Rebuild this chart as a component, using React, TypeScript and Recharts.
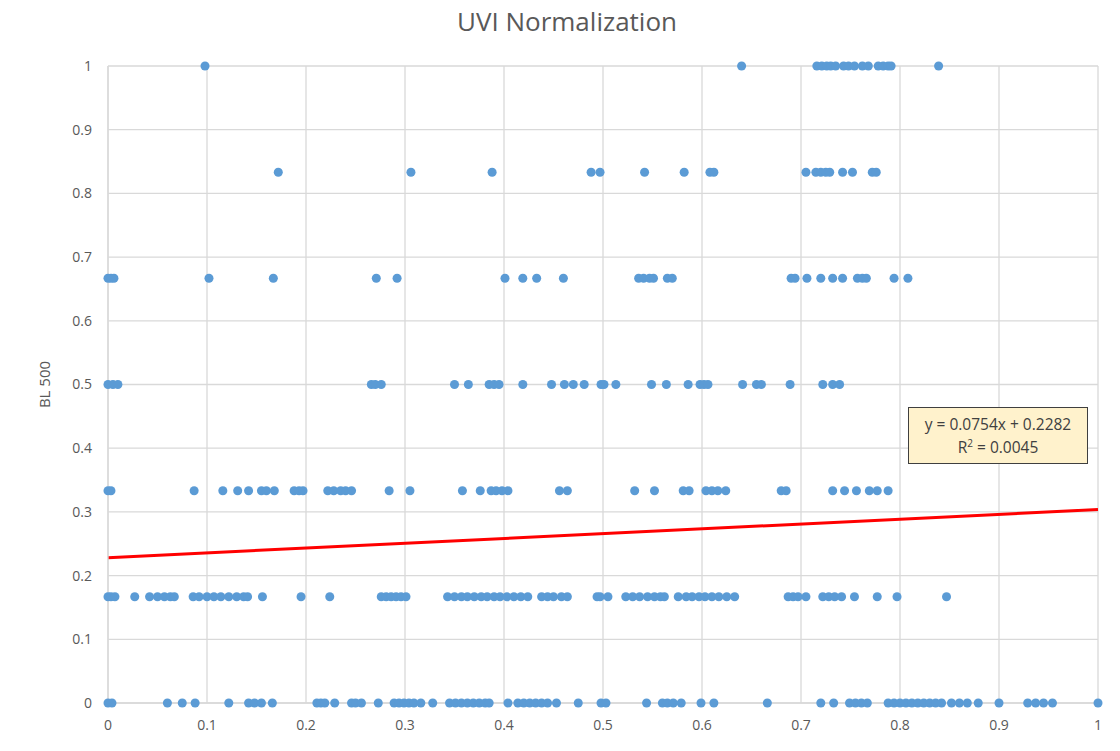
import React from 'react';
import {
  ScatterChart, Scatter, XAxis, YAxis, ZAxis, CartesianGrid, ReferenceLine,
} from 'recharts';

// Excel-style scatter: BL 500 vs UVI normalization, with linear trendline

const LEVELS = [0, 0.1667, 0.3333, 0.5, 0.6667, 0.8333, 1];

const X_AT_0 = [0, 0.004, 0.06, 0.075, 0.088, 0.122, 0.142, 0.148, 0.155, 0.166, 0.211, 0.215, 0.219, 0.229, 0.246, 0.25, 0.256, 0.273, 0.289, 0.294, 0.299, 0.304, 0.309, 0.316, 0.328, 0.345, 0.351, 0.357, 0.363, 0.369, 0.375, 0.381, 0.385, 0.404, 0.414, 0.42, 0.426, 0.432, 0.438, 0.444, 0.453, 0.475, 0.498, 0.503, 0.544, 0.56, 0.565, 0.571, 0.579, 0.599, 0.612, 0.666, 0.72, 0.733, 0.749, 0.755, 0.761, 0.767, 0.788, 0.794, 0.8, 0.806, 0.812, 0.818, 0.824, 0.83, 0.836, 0.842, 0.852, 0.86, 0.868, 0.879, 0.9, 0.929, 0.937, 0.945, 0.954, 1.0];
const X_AT_SIXTH = [0, 0.003, 0.007, 0.027, 0.042, 0.05, 0.057, 0.063, 0.067, 0.086, 0.092, 0.1, 0.107, 0.114, 0.122, 0.13, 0.137, 0.141, 0.156, 0.195, 0.224, 0.276, 0.281, 0.286, 0.291, 0.296, 0.301, 0.343, 0.35, 0.357, 0.363, 0.37, 0.377, 0.383, 0.39, 0.396, 0.403, 0.41, 0.417, 0.424, 0.438, 0.444, 0.45, 0.458, 0.464, 0.494, 0.497, 0.505, 0.523, 0.53, 0.537, 0.545, 0.552, 0.558, 0.562, 0.576, 0.584, 0.59, 0.597, 0.603, 0.61, 0.617, 0.625, 0.633, 0.687, 0.692, 0.697, 0.705, 0.722, 0.728, 0.734, 0.741, 0.754, 0.777, 0.797, 0.847];
const X_AT_THIRD = [0, 0.003, 0.087, 0.116, 0.131, 0.142, 0.155, 0.16, 0.168, 0.188, 0.193, 0.197, 0.222, 0.228, 0.235, 0.24, 0.246, 0.284, 0.305, 0.358, 0.376, 0.387, 0.392, 0.398, 0.404, 0.456, 0.464, 0.532, 0.552, 0.581, 0.587, 0.604, 0.61, 0.616, 0.624, 0.68, 0.685, 0.732, 0.744, 0.756, 0.769, 0.777, 0.788];
const X_AT_HALF = [0, 0.005, 0.01, 0.266, 0.27, 0.276, 0.35, 0.364, 0.385, 0.39, 0.395, 0.419, 0.448, 0.461, 0.47, 0.481, 0.498, 0.501, 0.513, 0.549, 0.564, 0.586, 0.598, 0.602, 0.606, 0.641, 0.655, 0.66, 0.689, 0.722, 0.732, 0.739];
const X_AT_TWO_THIRDS = [0, 0.003, 0.006, 0.102, 0.167, 0.271, 0.292, 0.401, 0.419, 0.433, 0.46, 0.536, 0.541, 0.547, 0.551, 0.565, 0.57, 0.69, 0.694, 0.706, 0.72, 0.732, 0.742, 0.757, 0.762, 0.766, 0.794, 0.808];
const X_AT_FIVE_SIXTHS = [0.172, 0.306, 0.388, 0.488, 0.497, 0.542, 0.582, 0.608, 0.612, 0.705, 0.715, 0.72, 0.725, 0.729, 0.742, 0.752, 0.772, 0.776];
const X_AT_1 = [0.098, 0.64, 0.716, 0.721, 0.726, 0.73, 0.735, 0.743, 0.748, 0.754, 0.762, 0.768, 0.778, 0.783, 0.788, 0.791, 0.839];

const X_BY_LEVEL = [X_AT_0, X_AT_SIXTH, X_AT_THIRD, X_AT_HALF, X_AT_TWO_THIRDS, X_AT_FIVE_SIXTHS, X_AT_1];

// trendline y = 0.0754x + 0.2282, end points
const TREND_START = { x: 0, y: 0.2282 };
const TREND_END = { x: 1, y: 0.3036 };

const TICKS = [0, 0.1, 0.2, 0.3, 0.4, 0.5, 0.6, 0.7, 0.8, 0.9, 1];

const points = X_BY_LEVEL.flatMap((xs, i) => xs.map((x) => ({ x, y: LEVELS[i] })));

const FONT = '"Open Sans", "Liberation Sans", sans-serif';
const GRAY = '#595959';
const GRID = '#d9d9d9';

export default function App() {
  return (
    <div style={{ position: 'relative', width: 1104, height: 735, fontFamily: FONT }}>
      <div style={{ position: 'absolute', top: -3, left: 0, width: 1118, textAlign: 'center', fontSize: 26, color: GRAY, lineHeight: '32px' }}>
        UVI Normalization
      </div>
      <ScatterChart width={1104} height={735} margin={{ top: 58, right: 14, bottom: 15, left: 0 }}>
        <CartesianGrid stroke={GRID} strokeWidth={1.3} horizontalValues={TICKS} verticalValues={TICKS} />
        <XAxis
          type="number" dataKey="x" domain={[0, 1]} ticks={TICKS} tickFormatter={(v) => String(v)}
          axisLine={{ stroke: GRID, strokeWidth: 1.3 }} tickLine={false} tickMargin={11} height={25}
          tick={{ fill: GRAY, fontSize: 14, fontFamily: FONT }}
        />
        <YAxis
          type="number" dataKey="y" domain={[0, 1]} ticks={TICKS} tickFormatter={(v) => String(v)}
          axisLine={{ stroke: GRID, strokeWidth: 1.3 }} tickLine={false} tickMargin={10} width={100}
          tick={{ fill: GRAY, fontSize: 14, fontFamily: FONT }}
          label={{ value: 'BL 500', angle: -90, position: 'insideLeft', offset: 37, textAnchor: 'middle', fill: GRAY, fontSize: 15, fontFamily: FONT }}
        />
        <ZAxis range={[100, 100]} />
        <Scatter data={points} fill="#5b9bd5" isAnimationActive={false} />
        <ReferenceLine segment={[TREND_START, TREND_END]} stroke="#ff0000" strokeWidth={3} ifOverflow="visible" />
      </ScatterChart>
      <div style={{
        position: 'absolute', left: 900, top: 399, width: 178, height: 55, background: '#fff2cc',
        border: '1px solid #3f3f3f', color: '#404040', fontSize: 15.5, textAlign: 'center', lineHeight: '23px',
        display: 'flex', flexDirection: 'column', justifyContent: 'center', whiteSpace: 'nowrap',
      }}>
        <div>y = 0.0754x + 0.2282</div>
        <div>R<sup style={{ fontSize: 10, verticalAlign: 'top', lineHeight: '14px' }}>2</sup> = 0.0045</div>
      </div>
    </div>
  );
}
